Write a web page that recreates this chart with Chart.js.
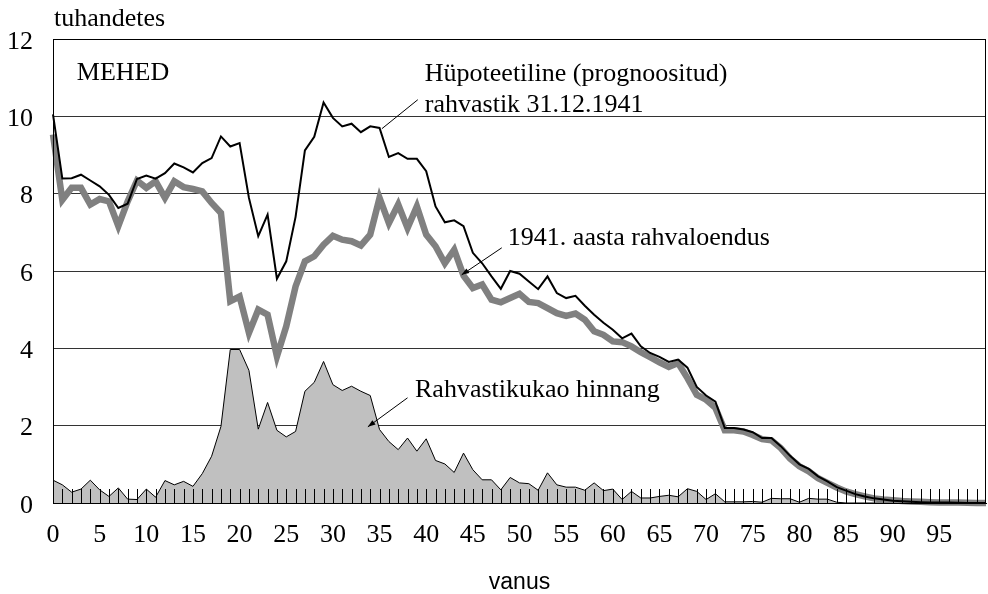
<!DOCTYPE html>
<html>
<head>
<meta charset="utf-8">
<script src="https://cdn.jsdelivr.net/npm/chart.js@4.4.1/dist/chart.umd.min.js"></script>
<style>
  html, body { margin: 0; padding: 0; background: #fff; }
  #wrap { width: 988px; height: 594px; }
</style>
</head>
<body>
<div id="wrap"><canvas id="grafik" width="988" height="594"></canvas></div>
<script>
// === ANDMED (tuhandetes, vanus 0..100) ===
const vanused = Array.from({ length: 101 }, (_, i) => i);

// Hüpoteetiline (prognoositud) rahvastik 31.12.1941
const hupoteetiline = [
  10.05, 8.39, 8.40, 8.49, 8.34, 8.19, 7.97, 7.63, 7.74, 8.38,
  8.47, 8.39, 8.53, 8.78, 8.68, 8.55, 8.79, 8.92, 9.48, 9.22,
  9.31, 7.89, 6.90, 7.46, 5.80, 6.25, 7.40, 9.12, 9.47, 10.36,
  9.96, 9.74, 9.81, 9.59, 9.74, 9.70, 8.95, 9.05, 8.90, 8.90,
  8.58, 7.67, 7.26, 7.31, 7.16, 6.47, 6.20, 5.86, 5.54, 6.00,
  5.93, 5.73, 5.53, 5.86, 5.43, 5.30, 5.36, 5.10, 4.87, 4.66,
  4.48, 4.26, 4.38, 4.05, 3.88, 3.78, 3.65, 3.71, 3.50, 3.00,
  2.78, 2.62, 1.94, 1.94, 1.90, 1.83, 1.68, 1.68, 1.47, 1.22,
  1.00, 0.88, 0.69, 0.56, 0.41, 0.32, 0.23, 0.17, 0.12, 0.09,
  0.06, 0.045, 0.03, 0.02, 0.015, 0.01, 0.01, 0.005, 0, 0,
  0
];

// 1941. aasta rahvaloendus
const rahvaloendus = [
  9.53, 7.84, 8.15, 8.15, 7.72, 7.86, 7.80, 7.16, 7.80, 8.34,
  8.15, 8.32, 7.89, 8.32, 8.17, 8.12, 8.06, 7.76, 7.50, 5.22,
  5.34, 4.40, 5.00, 4.87, 3.79, 4.57, 5.60, 6.25, 6.38, 6.68,
  6.91, 6.81, 6.77, 6.66, 6.94, 7.89, 7.24, 7.72, 7.11, 7.67,
  6.94, 6.64, 6.20, 6.55, 5.88, 5.56, 5.65, 5.26, 5.19, 5.30,
  5.41, 5.20, 5.17, 5.04, 4.91, 4.84, 4.90, 4.74, 4.44, 4.35,
  4.18, 4.16, 4.05, 3.90, 3.77, 3.64, 3.52, 3.62, 3.23, 2.80,
  2.67, 2.46, 1.88, 1.88, 1.85, 1.76, 1.65, 1.62, 1.42, 1.15,
  0.95, 0.82, 0.64, 0.52, 0.40, 0.30, 0.23, 0.17, 0.12, 0.09,
  0.07, 0.05, 0.04, 0.03, 0.02, 0.015, 0.01, 0.01, 0.005, 0,
  0
];

// Rahvastikukao hinnang
const kadu = [
  0.59, 0.47, 0.28, 0.36, 0.59, 0.34, 0.17, 0.39, 0.10, 0.09,
  0.36, 0.15, 0.58, 0.47, 0.56, 0.43, 0.76, 1.21, 1.98, 3.97,
  3.97, 3.43, 1.91, 2.60, 1.88, 1.71, 1.85, 2.89, 3.12, 3.66,
  3.06, 2.91, 3.02, 2.89, 2.78, 1.90, 1.59, 1.38, 1.68, 1.34,
  1.66, 1.10, 1.01, 0.79, 1.29, 0.86, 0.60, 0.60, 0.34, 0.66,
  0.52, 0.50, 0.33, 0.78, 0.47, 0.41, 0.41, 0.33, 0.52, 0.32,
  0.36, 0.09, 0.30, 0.13, 0.13, 0.17, 0.20, 0.16, 0.37, 0.30,
  0.09, 0.24, 0.03, 0.03, 0.03, 0.04, 0.02, 0.12, 0.11, 0.11,
  0.02, 0.12, 0.10, 0.10, 0.02, 0, 0, 0, 0, 0,
  0, 0, 0, 0, 0, 0, 0, 0, 0, 0,
  0
];

const yTikid = [0, 2, 4, 6, 8, 10, 12];

// === TEKSTID JA VIITED (andmeühikutes: vanus, tuhandetes) ===
const SERIF = "'Liberation Serif', 'Times New Roman', serif";
const tekstid = [
  { t: 'MEHED', x: 2.55, y: 10.95 },
  { t: 'Hüpoteetiline (prognoositud)', x: 39.85, y: 10.92 },
  { t: 'rahvastik 31.12.1941', x: 39.85, y: 10.10 },
  { t: '1941. aasta rahvaloendus', x: 48.75, y: 6.66 },
  { t: 'Rahvastikukao hinnang', x: 38.8, y: 2.73 }
];
const viited = [
  { x1: 39.1, y1: 10.43, x2: 35.25, y2: 9.68, nool: false },
  { x1: 48.1, y1: 6.60, x2: 43.8, y2: 5.90, nool: true },
  { x1: 38.0, y1: 2.72, x2: 33.75, y2: 1.97, nool: true }
];

// joonistab raami, sisemised kriipsud ja tekstid
const lisad = {
  id: 'lisad',
  afterDatasetsDraw(chart) {
    const { ctx, chartArea: a, scales: { x, y } } = chart;
    ctx.save();

    // väikesed kriipsud x-teljel (igale vanusele)
    ctx.strokeStyle = '#000';
    ctx.lineWidth = 1;
    ctx.beginPath();
    vanused.forEach(v => {
      if (v === 0 || v === 100) return;
      const px = Math.round(x.getPixelForValue(v)) + 0.5;
      ctx.moveTo(px, a.bottom);
      ctx.lineTo(px, a.bottom - 14);
    });
    ctx.stroke();

    // raam
    ctx.strokeRect(Math.round(a.left) + 0.5, Math.round(a.top) + 0.5,
      Math.round(a.right - a.left) - 1, Math.round(a.bottom - a.top));

    // tekstid
    ctx.fillStyle = '#000';
    ctx.font = '26px ' + SERIF;
    ctx.textBaseline = 'alphabetic';
    ctx.textAlign = 'left';
    tekstid.forEach(o => ctx.fillText(o.t, x.getPixelForValue(o.x), y.getPixelForValue(o.y)));

    // ühiku silt üleval
    ctx.fillText('tuhandetes', a.left + 1, 26);

    // viitejooned
    viited.forEach(v => {
      const x1 = x.getPixelForValue(v.x1), y1 = y.getPixelForValue(v.y1);
      const x2 = x.getPixelForValue(v.x2), y2 = y.getPixelForValue(v.y2);
      ctx.beginPath();
      ctx.moveTo(x1, y1);
      ctx.lineTo(x2, y2);
      ctx.stroke();
      if (v.nool) {
        const ang = Math.atan2(y2 - y1, x2 - x1);
        ctx.beginPath();
        ctx.moveTo(x2, y2);
        ctx.lineTo(x2 - 8 * Math.cos(ang - 0.35), y2 - 8 * Math.sin(ang - 0.35));
        ctx.lineTo(x2 - 8 * Math.cos(ang + 0.35), y2 - 8 * Math.sin(ang + 0.35));
        ctx.closePath();
        ctx.fill();
      }
    });
    ctx.restore();
  }
};

new Chart(document.getElementById('grafik'), {
  type: 'line',
  data: {
    labels: vanused,
    datasets: [
      {
        label: 'Hüpoteetiline (prognoositud) rahvastik 31.12.1941',
        data: hupoteetiline,
        borderColor: '#000',
        borderWidth: 2,
        pointRadius: 0,
        tension: 0,
        clip: false,
        order: 1
      },
      {
        label: '1941. aasta rahvaloendus',
        data: rahvaloendus,
        borderColor: '#808080',
        borderWidth: 6.5,
        borderJoinStyle: 'miter',
        pointRadius: 0,
        tension: 0,
        clip: false,
        order: 2
      },
      {
        label: 'Rahvastikukao hinnang',
        data: kadu,
        borderColor: '#000',
        borderWidth: 1,
        backgroundColor: '#c0c0c0',
        fill: 'origin',
        pointRadius: 0,
        tension: 0,
        order: 3
      }
    ]
  },
  options: {
    responsive: false,
    animation: false,
    layout: { padding: { top: 39, right: 2, left: 0, bottom: 0 } },
    plugins: {
      legend: { display: false },
      tooltip: { enabled: false }
    },
    scales: {
      x: {
        type: 'linear',
        min: 0,
        max: 100,
        afterFit: s => { s.height = 91; s.paddingLeft = 0; s.paddingRight = 0; },
        ticks: {
          stepSize: 5,
          autoSkip: false,
          maxRotation: 0,
          padding: 17,
          color: '#000',
          font: { family: SERIF, size: 26 },
          callback: v => (v < 100 ? v : '')
        },
        grid: { drawOnChartArea: false, drawTicks: false },
        border: { display: true, color: '#000', width: 1 },
        title: {
          display: true,
          text: 'vanus',
          color: '#000',
          font: { family: "'Liberation Sans', Arial, sans-serif", size: 23, lineHeight: 1 },
          padding: { top: 0, bottom: 0 }
        }
      },
      y: {
        min: 0,
        max: 12,
        afterFit: s => { s.width = 53; s.paddingTop = 0; s.paddingBottom = 0; },
        afterBuildTicks: s => { s.ticks = yTikid.map(v => ({ value: v })); },
        ticks: {
          padding: 20,
          labelOffset: 3,
          color: '#000',
          font: { family: SERIF, size: 26 }
        },
        grid: { color: '#333', lineWidth: 1, drawTicks: false },
        border: { display: true, color: '#000', width: 1 }
      }
    }
  },
  plugins: [lisad]
});
</script>
</body>
</html>
